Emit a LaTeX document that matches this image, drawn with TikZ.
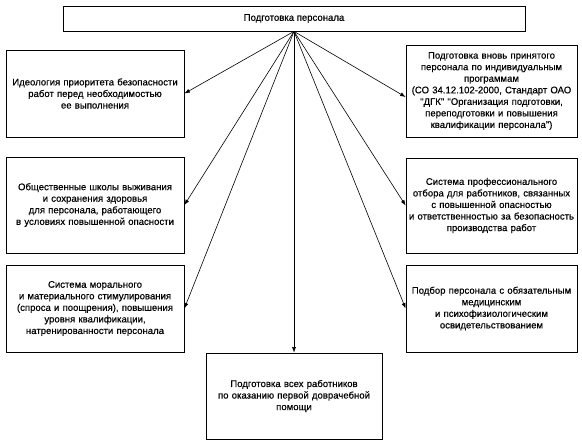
\documentclass[tikz,border=0pt]{standalone}
\usepackage{fontspec}
\setmainfont{Liberation Sans}
\newfontfamily\boxfont{Liberation Sans}[FakeBold=0.5]
\usetikzlibrary{arrows.meta}
\begin{document}
\begin{tikzpicture}[x=1bp,y=-1bp,
  box/.style={draw, line width=0.8pt, rectangle, align=center, inner sep=1pt,
    font=\boxfont\fontsize{9.6}{11.6}\selectfont},
  conn/.style={line width=0.6pt, -{Latex[length=5.5pt,width=4pt]}}]
\useasboundingbox (0,0) rectangle (582,447);
\node[box, minimum width=462bp, minimum height=25bp] (top) at (294,18.5) {Подготовка персонала};
\node[box, minimum width=176bp, minimum height=87bp, text width=176bp] (l1) at (95,93.5)
  {Идеология приоритета безопасности\\работ перед необходимостью\\ее выполнения};
\node[box, minimum width=176bp, minimum height=96bp, text width=176bp] (l2) at (95,205)
  {Общественные школы выживания\\и сохранения здоровья\\для персонала, работающего\\в условиях повышенной опасности};
\node[box, minimum width=176bp, minimum height=87bp, text width=176bp] (l3) at (95,308.5)
  {Система морального\\и материального стимулирования\\(спроса и поощрения), повышения\\уровня квалификации,\\натренированности персонала};
\node[box, minimum width=169bp, minimum height=92bp, text width=169bp] (r1) at (491.5,91)
  {Подготовка вновь принятого\\персонала по индивидуальным\\программам\\(СО 34.12.102-2000, Стандарт ОАО\\"ДГК" "Организация подготовки,\\переподготовки и повышения\\квалификации персонала")};
\node[box, minimum width=169bp, minimum height=95bp, text width=169bp] (r2) at (491.5,205.5)
  {Система профессионального\\отбора для работников, связанных\\с повышенной опасностью\\и ответственностью за безопасность\\производства работ};
\node[box, minimum width=169bp, minimum height=87bp, text width=169bp] (r3) at (491.5,308.5)
  {Подбор персонала с обязательным\\медицинским\\и психофизиологическим\\освидетельствованием};
\node[box, minimum width=174bp, minimum height=86bp, text width=174bp] (b) at (294,396)
  {Подготовка всех работников\\по оказанию первой доврачебной\\помощи};
\draw[conn] (top.south) -- (l1.east);
\draw[conn] (top.south) -- (l2.east);
\draw[conn] (top.south) -- (l3.east);
\draw[conn] (top.south) -- ([yshift=-6bp]r1.west);
\draw[conn] (top.south) -- (r2.west);
\draw[conn] (top.south) -- (r3.west);
\draw[conn] (top.south) -- (b.north);
\end{tikzpicture}
\end{document}
